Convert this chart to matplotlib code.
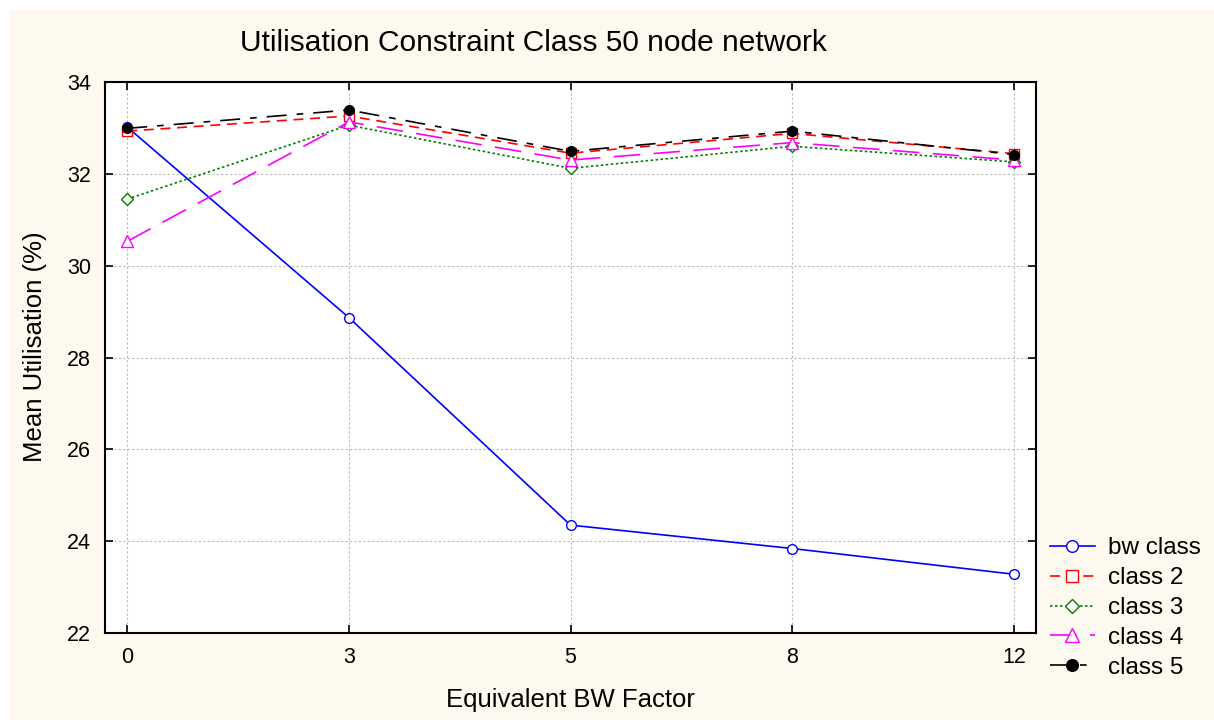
import numpy as np
import matplotlib.pyplot as plt
from matplotlib.patches import Rectangle

plt.rcParams['font.family'] = ['Liberation Sans', 'DejaVu Sans']

# Data
factors = ["0", "3", "5", "8", "12"]
bw_class = [33.02, 28.87, 24.35, 23.84, 23.28]
class_2 = [32.93, 33.26, 32.45, 32.88, 32.44]
class_3 = [31.45, 33.06, 32.12, 32.60, 32.26]
class_4 = [30.53, 33.13, 32.30, 32.68, 32.30]
class_5 = [32.99, 33.39, 32.49, 32.93, 32.42]

fig = plt.figure(figsize=(12.14, 7.2), dpi=100)
fig.patch.set_facecolor("white")
fig.patches.append(Rectangle((9/1214, 0), 1, 1 - 10/720, transform=fig.transFigure,
                             facecolor="#FEF9EF", edgecolor="none", zorder=-10))

ax = fig.add_axes([105/1214, 87/720, 931/1214, 551/720])
ax.set_facecolor("white")
x = np.arange(len(factors))

ax.plot(x, bw_class, color="blue", lw=1.2, marker="o", ms=7, mfc="white",
        mec="blue", label="bw class")
ax.plot(x, class_2, color="red", lw=1.2, ls=(0, (6, 4)), marker="s", ms=7,
        mfc="white", mec="red", label="class 2")
ax.plot(x, class_3, color="green", lw=1.2, ls=(0, (1.5, 1.5)), marker="D", ms=6,
        mfc="white", mec="green", label="class 3")
ax.plot(x, class_4, color="magenta", lw=1.2, ls=(0, (16, 8)), marker="^", ms=8,
        mfc="white", mec="magenta", label="class 4")
ax.plot(x, class_5, color="black", lw=1.2, ls=(0, (12, 6, 4, 6)), marker="o", ms=7,
        mfc="black", mec="black", label="class 5")

ax.set_xlim(-0.1, 4.1)
ax.set_ylim(22, 34)
ax.set_xticks(x)
ax.set_xticklabels(factors)
ax.set_yticks(np.arange(22, 35, 2))
ax.tick_params(direction="in", length=6, width=1.2, labelsize=15.5, pad=10,
               top=True, right=True)
ax.grid(True, color="#BBBBBB", ls=(0, (2, 2)), lw=0.8)
for s in ax.spines.values():
    s.set_linewidth(1.5)

ax.set_xlabel("Equivalent BW Factor", fontsize=18.5)
ax.set_ylabel("Mean Utilisation (%)", fontsize=18.5)
ax.xaxis.set_label_coords(0.5, -0.1)
ax.yaxis.set_label_coords(-0.062, 0.519)
fig.text(533/1214, 1 - 43/720, "Utilisation Constraint Class 50 node network",
         ha="center", va="center", fontsize=21.5)

leg = ax.legend(loc="center left", bbox_to_anchor=(1050/1214, 1 - 608/720),
                bbox_transform=fig.transFigure, frameon=False, borderaxespad=0,
                borderpad=0, fontsize=17.5, handlelength=1.85, handletextpad=0.55,
                labelspacing=0.32, markerscale=1.2)

fig.savefig("out.png", dpi=100, facecolor=fig.get_facecolor())
